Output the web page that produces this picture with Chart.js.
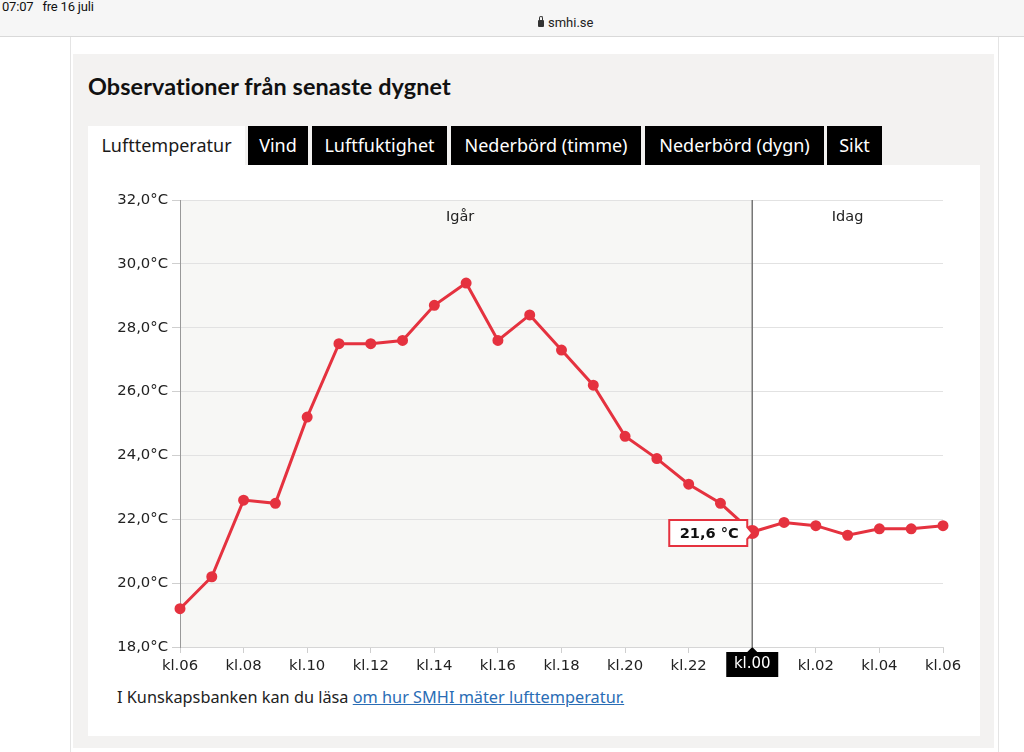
<!DOCTYPE html>
<html lang="sv">
<head>
<meta charset="utf-8">
<title>Observationer från senaste dygnet</title>
<script src="https://cdn.jsdelivr.net/npm/chart.js@4.4.0/dist/chart.umd.min.js"></script>
<style>
  html, body { margin: 0; padding: 0; }
  body { width: 1024px; height: 752px; overflow: hidden; background: #fff; position: relative; font-family: "Noto Sans", "Open Sans", sans-serif; color: #1a1a1a; }
  .status { position: absolute; left: 0; top: 0; width: 1024px; height: 36px; background: #f6f6f6; border-bottom: 1px solid #d9d9d9; }
  .clock { position: absolute; left: 2px; top: -1px; font: 13px Roboto, sans-serif; color: #111; letter-spacing: -0.2px; }
  .url { position: absolute; left: 538px; top: 15px; font: 13px Roboto, sans-serif; color: #222; }
  .lock { display: inline-block; width: 6px; height: 7px; background: #333; border-radius: 1px; margin-right: 4px; position: relative; top: 0px; }
  .lock:before { content: ""; position: absolute; left: 1px; top: -4px; width: 2px; height: 3px; border: 1px solid #333; border-bottom: none; border-radius: 2px 2px 0 0; }
  .edge { position: absolute; top: 37px; width: 1px; height: 715px; background: #e4e4e4; }
  .box { position: absolute; left: 73px; top: 54px; width: 921px; height: 694px; background: #f3f2f1; }
  h1 { position: absolute; left: 88px; top: 72px; margin: 0; font: 700 23.4px Lato, sans-serif; color: #111; letter-spacing: 0.1px; }
  .tab { position: absolute; top: 126px; height: 39px; line-height: 39px; text-align: center; font-size: 18px; background: #000; color: #fff; }
  .tab.active { background: #fff; color: #1a1a1a; }
  .panel { position: absolute; left: 88px; top: 165px; width: 892px; height: 571px; background: #fff; }
  .chart-wrap { position: absolute; left: 88px; top: 180px; width: 892px; height: 500px; }
  .foot { position: absolute; left: 117px; top: 686px; font-size: 16.3px; color: #222; }
  .foot a { color: #2a6db5; text-decoration: underline; }
</style>
</head>
<body>
<div class="status">
  <div class="clock">07:07&nbsp;&nbsp;&nbsp;fre 16 juli</div>
  <div class="url"><span class="lock"></span>smhi.se</div>
</div>
<div class="edge" style="left:70px"></div>
<div class="edge" style="left:998px"></div>
<div class="box"></div>
<h1>Observationer från senaste dygnet</h1>
<div class="tab active" style="left:88px;width:157px">Lufttemperatur</div>
<div class="tab" style="left:248px;width:60px">Vind</div>
<div class="tab" style="left:312px;width:135px">Luftfuktighet</div>
<div class="tab" style="left:451px;width:190px">Nederbörd (timme)</div>
<div class="tab" style="left:645px;width:179px">Nederbörd (dygn)</div>
<div class="tab" style="left:827px;width:55px">Sikt</div>
<div class="panel"></div>
<div class="chart-wrap"><canvas id="tempChart"></canvas></div>
<div class="foot">I Kunskapsbanken kan du läsa <a href="#">om hur SMHI mäter lufttemperatur.</a></div>

<script>
// timmar (kl.06 igår -> kl.06 idag)
const hours = ['kl.06', 'kl.07', 'kl.08', 'kl.09', 'kl.10', 'kl.11', 'kl.12', 'kl.13', 'kl.14', 'kl.15',
  'kl.16', 'kl.17', 'kl.18', 'kl.19', 'kl.20', 'kl.21', 'kl.22', 'kl.23',
  'kl.00', 'kl.01', 'kl.02', 'kl.03', 'kl.04', 'kl.05', 'kl.06'];

// lufttemperatur (°C)
const temps = [19.2, 20.2, 22.6, 22.5, 25.2, 27.5, 27.5, 27.6, 28.7, 29.4,
  27.6, 28.4, 27.3, 26.2, 24.6, 23.9, 23.1, 22.5,
  21.6, 21.9, 21.8, 21.5, 21.7, 21.7, 21.8];

const yTicks = [18, 20, 22, 24, 26, 28, 30, 32];
const dayNames = ['Igår', 'Idag'];
const midnightIndex = 18;   // kl.00
const activeIndex = 18;     // markerad punkt

const red = '#e5323f';
const tickFont = { family: '"DejaVu Sans", Verdana, sans-serif', size: 14.8 };

function fmtTemp(v) {
  return v.toFixed(1).replace('.', ',');
}

// bakgrund + dagsgräns
const dayPlugin = {
  id: 'dayPlugin',
  beforeDraw(chart) {
    const { ctx, chartArea } = chart;
    const xm = chart.scales.x.getPixelForValue(midnightIndex);
    ctx.save();
    ctx.fillStyle = '#f7f7f5';
    ctx.fillRect(chartArea.left, chartArea.top, xm - chartArea.left, chartArea.bottom - chartArea.top);
    ctx.restore();
  },
  beforeDatasetsDraw(chart) {
    const { ctx, chartArea } = chart;
    const xm = chart.scales.x.getPixelForValue(midnightIndex);
    ctx.save();
    ctx.strokeStyle = '#777';
    ctx.lineWidth = 1.5;
    ctx.beginPath();
    ctx.moveTo(xm, chartArea.top);
    ctx.lineTo(xm, chartArea.bottom);
    ctx.stroke();

    ctx.fillStyle = '#222';
    ctx.font = '14.5px "DejaVu Sans", Verdana, sans-serif';
    ctx.textAlign = 'center';
    ctx.textBaseline = 'middle';
    ctx.fillText(dayNames[0], (chartArea.left + xm) / 2 - 6, chartArea.top + 17);
    ctx.fillText(dayNames[1], (xm + chartArea.right) / 2, chartArea.top + 17);
    ctx.restore();
  },
  afterDraw(chart) {
    const { ctx, chartArea } = chart;
    const x = chart.scales.x.getPixelForValue(activeIndex);
    const y = chart.scales.y.getPixelForValue(temps[activeIndex]);

    // tooltip-ruta
    const right = x - 5, left = right - 78, top = y - 12, bottom = y + 14, cy = y;
    ctx.save();
    ctx.beginPath();
    ctx.moveTo(left, top);
    ctx.lineTo(right, top);
    ctx.lineTo(right, cy - 5);
    ctx.lineTo(right + 5, cy + 1);
    ctx.lineTo(right, cy + 7);
    ctx.lineTo(right, bottom);
    ctx.lineTo(left, bottom);
    ctx.closePath();
    ctx.fillStyle = '#fff';
    ctx.fill();
    ctx.strokeStyle = red;
    ctx.lineWidth = 2;
    ctx.stroke();
    ctx.fillStyle = '#111';
    ctx.font = 'bold 14.6px "DejaVu Sans", Verdana, sans-serif';
    ctx.textAlign = 'center';
    ctx.textBaseline = 'middle';
    ctx.fillText(fmtTemp(temps[activeIndex]) + ' °C', (left + right) / 2 + 1, (top + bottom) / 2 + 1);

    // markerad x-etikett
    const by = chartArea.bottom;
    ctx.fillStyle = '#000';
    ctx.beginPath();
    ctx.moveTo(x, by);
    ctx.lineTo(x - 6, by + 6);
    ctx.lineTo(x + 6, by + 6);
    ctx.closePath();
    ctx.fill();
    ctx.fillRect(x - 26, by + 5, 52, 25);
    ctx.fillStyle = '#fff';
    ctx.font = '15px "DejaVu Sans", Verdana, sans-serif';
    ctx.fillText(hours[activeIndex], x, by + 17);
    ctx.restore();
  }
};

new Chart(document.getElementById('tempChart'), {
  type: 'line',
  data: {
    labels: hours,
    datasets: [{
      label: 'Lufttemperatur',
      data: temps,
      borderColor: red,
      backgroundColor: red,
      borderWidth: 3,
      pointRadius: ctx => ctx.dataIndex === activeIndex ? 5.5 : 4,
      pointBackgroundColor: red,
      pointBorderColor: red,
      tension: 0
    }]
  },
  options: {
    responsive: true,
    maintainAspectRatio: false,
    animation: false,
    events: [],
    layout: { padding: { top: 20, right: 37, bottom: 0, left: 0 } },
    plugins: {
      legend: { display: false },
      tooltip: { enabled: false }
    },
    scales: {
      x: {
        type: 'category',
        offset: false,
        afterFit: scale => { scale.height = 33; },
        grid: {
          drawOnChartArea: false,
          tickLength: 6,
          tickColor: ctx => ctx.index % 2 ? 'rgba(0,0,0,0)' : '#cfcfcf'
        },
        border: { color: '#d6d6d6' },
        ticks: {
          autoSkip: false,
          maxRotation: 0,
          padding: 4,
          color: '#222',
          font: tickFont,
          callback: (v, i) => i % 2 ? '' : hours[i]
        }
      },
      y: {
        min: yTicks[0],
        max: yTicks[yTicks.length - 1],
        afterFit: scale => { scale.width = 92; },
        afterBuildTicks: scale => { scale.ticks = yTicks.map(v => ({ value: v })); },
        grid: { color: '#e2e2e2', tickLength: 8, tickColor: '#cfcfcf' },
        border: { color: '#999' },
        ticks: {
          padding: 4,
          color: '#222',
          font: tickFont,
          callback: v => fmtTemp(v) + '°C'
        }
      }
    }
  },
  plugins: [dayPlugin]
});
</script>
</body>
</html>
